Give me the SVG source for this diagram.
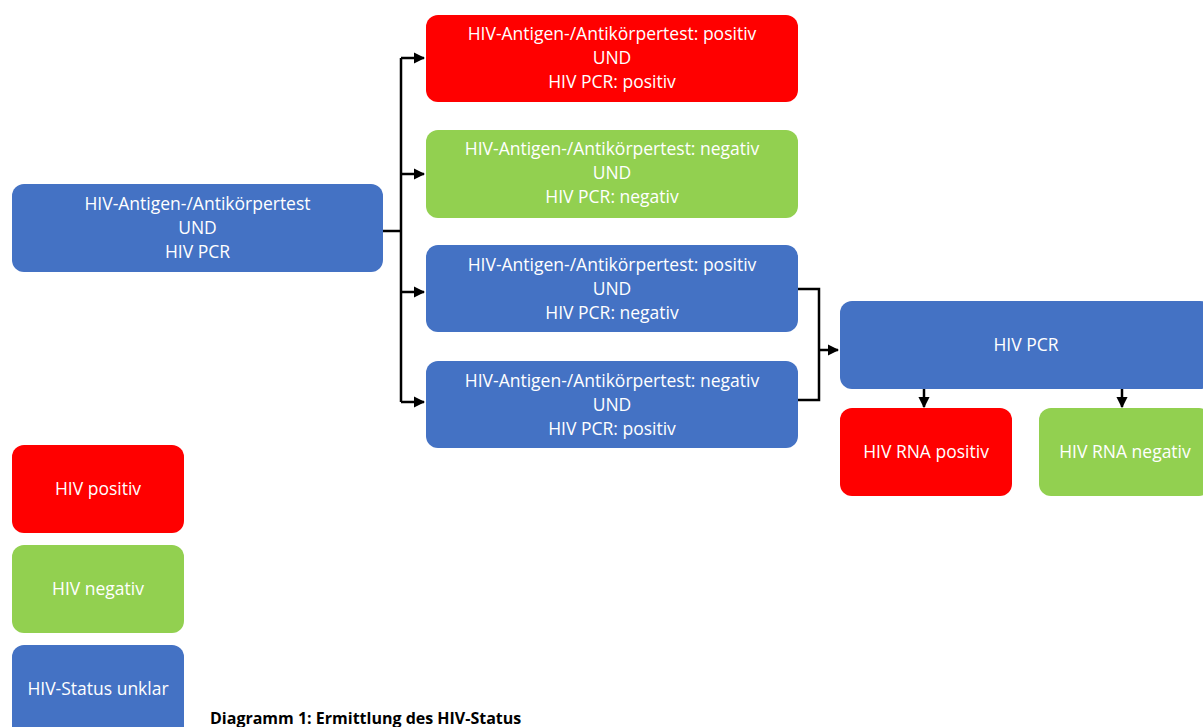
<svg xmlns="http://www.w3.org/2000/svg" width="1203" height="727" viewBox="0 0 1203 727">
<defs>
<style>
.n{stroke:none}
.r{fill:#FF0000}
.g{fill:#92D050}
.b{fill:#4472C4}
text{font-family:"Open Sans","Liberation Sans",Arial,sans-serif;font-size:17.5px;fill:#FFFFFF;text-anchor:middle}
.c{fill:none;stroke:#000;stroke-width:2.5}
.cap{fill:#000;font-weight:bold;text-anchor:start;font-size:16px}
</style>
<marker id="ah" viewBox="0 0 10 10" refX="9" refY="5" markerWidth="4.5" markerHeight="4.5" orient="auto" markerUnits="strokeWidth">
<path d="M0,0 L10,5 L0,10 Z" fill="#000"/>
</marker>
</defs>
<rect width="1203" height="727" fill="#FFFFFF"/>
<g id="connectors">
<path class="c" d="M383,231 H401"/>
<path class="c" d="M401,58 V402"/>
<path class="c" d="M401,58 H424" marker-end="url(#ah)"/>
<path class="c" d="M401,174 H424" marker-end="url(#ah)"/>
<path class="c" d="M401,292 H424" marker-end="url(#ah)"/>
<path class="c" d="M401,402 H424" marker-end="url(#ah)"/>
<path class="c" d="M798,289 H819 V400 H798"/>
<path class="c" d="M819,350 H838" marker-end="url(#ah)"/>
<path class="c" d="M924,389 V407" marker-end="url(#ah)"/>
<path class="c" d="M1122,389 V407" marker-end="url(#ah)"/>
</g>
<g id="start">
<rect class="b" x="12" y="184" width="371" height="88" rx="12"/>
<text x="197.5" y="210">HIV-Antigen-/Antikörpertest</text>
<text x="197.5" y="234">UND</text>
<text x="197.5" y="258">HIV PCR</text>
</g>
<g id="pospos">
<rect class="r" x="426" y="15" width="372" height="87" rx="12"/>
<text x="612" y="40">HIV-Antigen-/Antikörpertest: positiv</text>
<text x="612" y="64">UND</text>
<text x="612" y="88">HIV PCR: positiv</text>
</g>
<g id="negneg">
<rect class="g" x="426" y="130" width="372" height="88" rx="12"/>
<text x="612" y="155">HIV-Antigen-/Antikörpertest: negativ</text>
<text x="612" y="179">UND</text>
<text x="612" y="203">HIV PCR: negativ</text>
</g>
<g id="posneg">
<rect class="b" x="426" y="245" width="372" height="87" rx="12"/>
<text x="612" y="271">HIV-Antigen-/Antikörpertest: positiv</text>
<text x="612" y="295">UND</text>
<text x="612" y="319">HIV PCR: negativ</text>
</g>
<g id="negpos">
<rect class="b" x="426" y="361" width="372" height="87" rx="12"/>
<text x="612" y="387">HIV-Antigen-/Antikörpertest: negativ</text>
<text x="612" y="411">UND</text>
<text x="612" y="435">HIV PCR: positiv</text>
</g>
<g id="pcr">
<rect class="b" x="840" y="301" width="372" height="88" rx="12"/>
<text x="1026" y="351">HIV PCR</text>
</g>
<g id="rnapos">
<rect class="r" x="840" y="408" width="172" height="88" rx="12"/>
<text x="926" y="458">HIV RNA positiv</text>
</g>
<g id="rnaneg">
<rect class="g" x="1039" y="408" width="172" height="88" rx="12"/>
<text x="1125" y="458">HIV RNA negativ</text>
</g>
<g id="leg-pos">
<rect class="r" x="12" y="445" width="172" height="88" rx="12"/>
<text x="98" y="495">HIV positiv</text>
</g>
<g id="leg-neg">
<rect class="g" x="12" y="545" width="172" height="88" rx="12"/>
<text x="98" y="595">HIV negativ</text>
</g>
<g id="leg-unk">
<rect class="b" x="12" y="645" width="172" height="95" rx="12"/>
<text x="98" y="695">HIV-Status unklar</text>
</g>
<text class="cap" x="210" y="724">Diagramm 1: Ermittlung des HIV-Status</text>
</svg>
